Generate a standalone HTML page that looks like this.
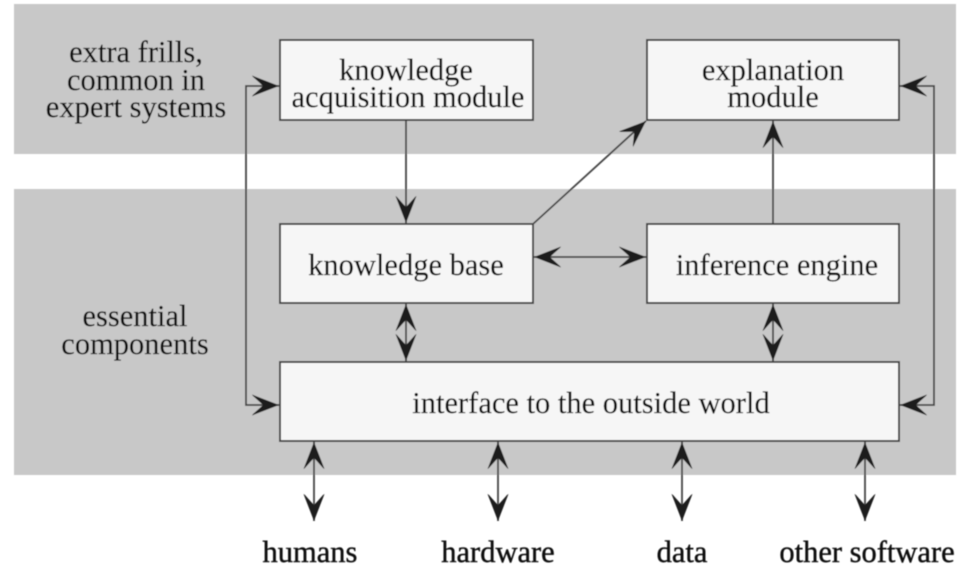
<!DOCTYPE html>
<html><head><meta charset="utf-8"><style>
html,body{margin:0;padding:0;background:#fff;width:969px;height:578px;overflow:hidden}
svg{display:block}
text{font-family:"Liberation Serif",serif;font-size:30.5px;fill:#111;stroke:#111;stroke-width:.15;text-anchor:middle}
.box{fill:#f6f6f6;stroke:#444;stroke-width:2}
.ln{stroke:#444;stroke-width:1.8;fill:none}
</style></head><body>
<svg width="969" height="578" viewBox="0 0 969 578" xmlns="http://www.w3.org/2000/svg">
<defs>
<filter id="b" x="-2%" y="-2%" width="104%" height="104%"><feGaussianBlur stdDeviation="0.5"/></filter>
<marker id="a" markerUnits="userSpaceOnUse" markerWidth="30" markerHeight="24" refX="27" refY="12" orient="auto-start-reverse">
<path d="M27 12 L0 1.5 L1 3 Q9 10 11 12 Q9 14 1 21 L0 22.5 Z" fill="#1c1c1c"/>
</marker>
</defs>
<g filter="url(#b)">
<rect x="14" y="4" width="942" height="150" fill="#c8c8c8"/>
<rect x="14" y="189" width="942" height="286" fill="#c8c8c8"/>
<rect class="box" x="280" y="40" width="253" height="80"/>
<rect class="box" x="647" y="40" width="252" height="80"/>
<rect class="box" x="280" y="224" width="253" height="79"/>
<rect class="box" x="647" y="224" width="252" height="79"/>
<rect class="box" x="280" y="362" width="619" height="79"/>

<path class="ln" d="M406 120V223" marker-end="url(#a)"/>
<path class="ln" d="M533 224L646 121" marker-end="url(#a)"/>
<path class="ln" d="M773 224V121" marker-end="url(#a)"/>
<path class="ln" d="M534 257H646" marker-start="url(#a)" marker-end="url(#a)"/>
<path class="ln" d="M279 86H246V405H279" marker-start="url(#a)" marker-end="url(#a)"/>
<path class="ln" d="M900 86H934V405H900" marker-start="url(#a)" marker-end="url(#a)"/>
<path class="ln" d="M406 304V361" marker-start="url(#a)" marker-end="url(#a)"/>
<path class="ln" d="M773 304V361" marker-start="url(#a)" marker-end="url(#a)"/>
<path class="ln" d="M314 442V521" marker-start="url(#a)" marker-end="url(#a)"/>
<path class="ln" d="M498 442V521" marker-start="url(#a)" marker-end="url(#a)"/>
<path class="ln" d="M682 442V521" marker-start="url(#a)" marker-end="url(#a)"/>
<path class="ln" d="M865 442V521" marker-start="url(#a)" marker-end="url(#a)"/>

<text x="136" y="62">extra frills,</text>
<text x="136" y="90">common in</text>
<text x="136" y="117">expert systems</text>
<text x="135" y="326">essential</text>
<text x="135" y="354">components</text>
<text x="406" y="80">knowledge</text>
<text x="408" y="107">acquisition module</text>
<text x="773" y="80">explanation</text>
<text x="773" y="107">module</text>
<text x="406" y="275">knowledge base</text>
<text x="777" y="275">inference engine</text>
<text x="591" y="413">interface to the outside world</text>
<text x="310" y="562" style="stroke-width:.4">humans</text>
<text x="498" y="562" style="stroke-width:.4">hardware</text>
<text x="682" y="562" style="stroke-width:.4">data</text>
<text x="867" y="562" style="stroke-width:.4">other software</text>
</g>
</svg>
</body></html>
